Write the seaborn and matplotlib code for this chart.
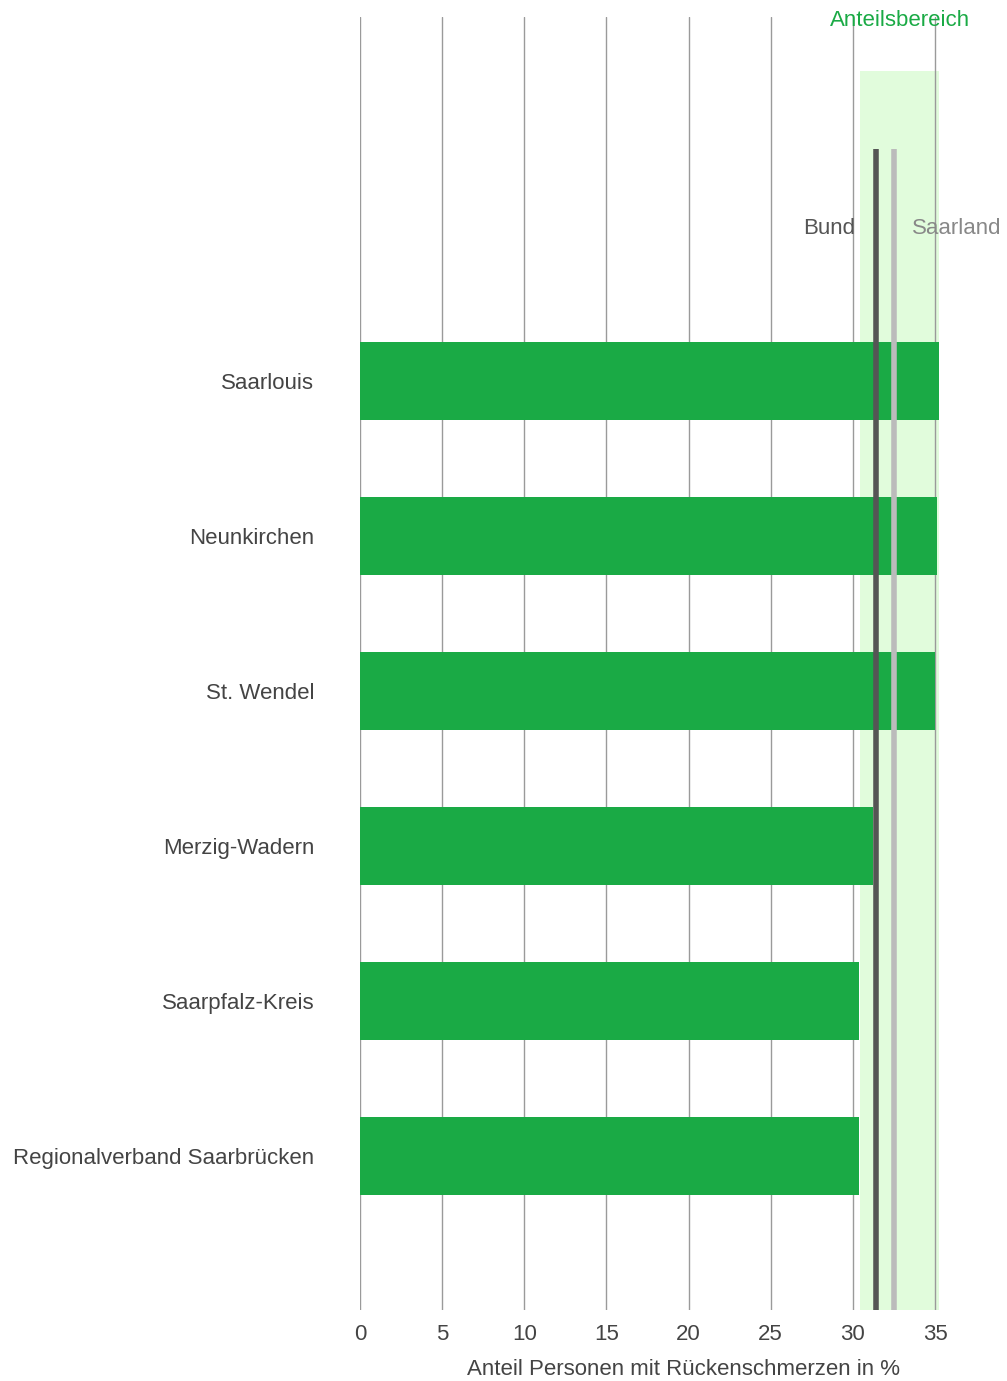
import pandas as pd
import matplotlib.pyplot as plt
import seaborn as sns

# data
kreise = ['Saarlouis', 'Neunkirchen', 'St. Wendel', 'Merzig-Wadern',
          'Saarpfalz-Kreis', 'Regionalverband Saarbrücken']
anteil = [35.25, 35.1, 35.0, 31.2, 30.4, 30.4]
bund = 31.4
saarland = 32.5
bereich = [30.45, 35.25]
ticks = [0, 5, 10, 15, 20, 25, 30, 35]

sns.set_style('white')
plt.rcParams['font.family'] = ['Liberation Sans', 'DejaVu Sans']

df = pd.DataFrame({'Kreis': kreise, 'Anteil': anteil})

fig = plt.figure(figsize=(10.07, 13.81), dpi=100)
W, H = 1007, 1381
ax = fig.add_axes([360 / W, 1 - 1310 / H, (1007 - 360) / W, (1310 - 17) / H])

sns.barplot(data=df, y='Kreis', x='Anteil', orient='h', color='#1aaa45',
            saturation=1, width=0.5, linewidth=0, ax=ax, zorder=3)

xmax = (1007 - 360) / (575 / 35)
ax.set_xlim(0, xmax)
ylo = (1310 - 381) / 155
yhi = (17 - 381) / 155
ax.set_ylim(ylo, yhi)

# grid lines
for t in ticks:
    ax.axvline(t, color='#9a9a9a', lw=1, zorder=2)

# Anteilsbereich
ax.fill_betweenx([-2.0, ylo], bereich[0], bereich[1], color='#e1fcdc', zorder=1, lw=0)
ax.text(sum(bereich) / 2, yhi + 0.02, 'Anteilsbereich', color='#1aaa45',
        fontsize=16, ha='center', va='center')

# reference lines
ax.plot([bund, bund], [-1.5, ylo], color='#555555', lw=4, zorder=4, solid_capstyle='butt')
ax.plot([saarland, saarland], [-1.5, ylo], color='#bbbbbb', lw=4, zorder=4, solid_capstyle='butt')
ax.text(bund - 1.25, -0.985, 'Bund', color='#555555', fontsize=16, ha='right', va='center')
ax.text(saarland + 1.1, -0.985, 'Saarland', color='#888888', fontsize=16, ha='left', va='center')

ax.set_xticks(ticks)
ax.tick_params(axis='x', length=0, pad=10, labelsize=16, labelcolor='#444444')
ax.tick_params(axis='y', length=0, pad=33, labelsize=16, labelcolor='#444444')
ax.set_xlabel('Anteil Personen mit Rückenschmerzen in %', fontsize=16, color='#444444', labelpad=10)
ax.set_ylabel('')
sns.despine(ax=ax, left=True, bottom=True)

fig.savefig('out.png', dpi=100)
